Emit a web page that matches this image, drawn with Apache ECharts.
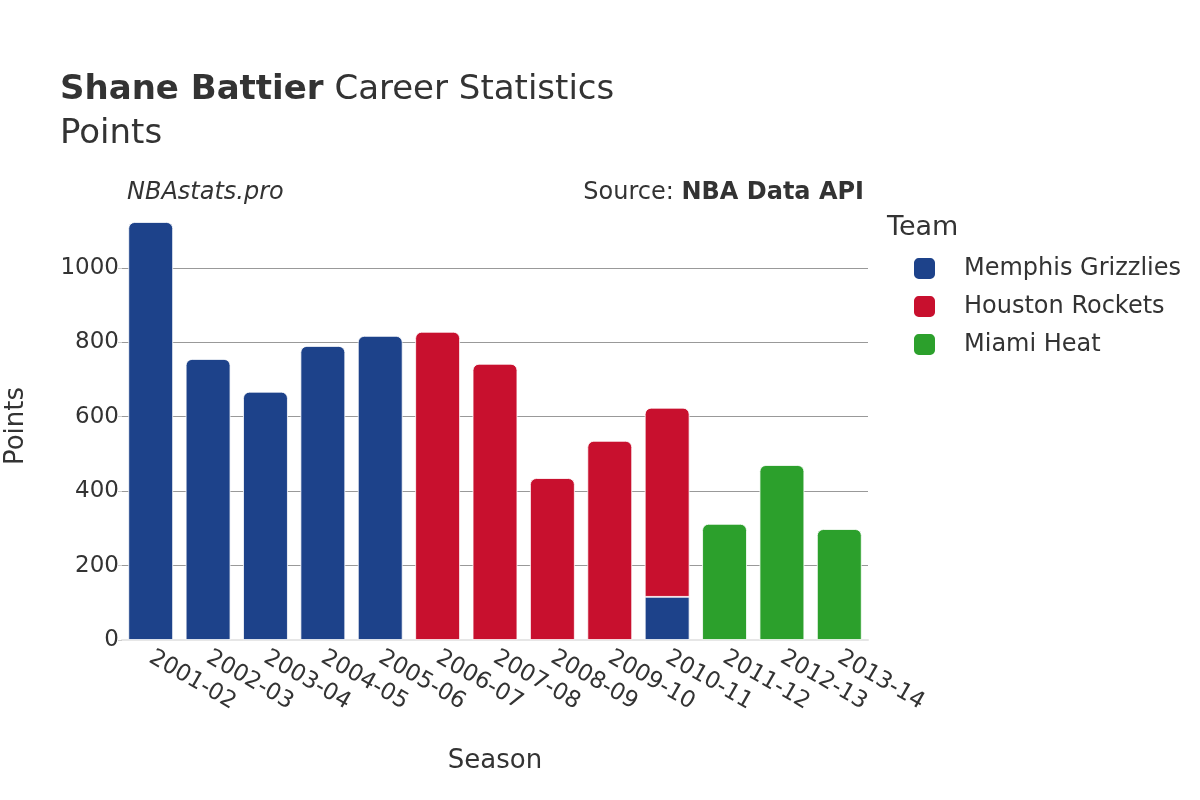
<!DOCTYPE html>
<html>
<head>
<meta charset="utf-8">
<script src="https://cdn.jsdelivr.net/npm/echarts@6/dist/echarts.min.js"></script>
<style>
html,body{margin:0;padding:0;background:#fff;}
#chart{width:1200px;height:800px;}
</style>
</head>
<body>
<div id="chart"></div>
<script>
const seasons = ['2001-02','2002-03','2003-04','2004-05','2005-06','2006-07','2007-08','2008-09','2009-10','2010-11','2011-12','2012-13','2013-14'];
const memphis = [1123, 755, 667, 790, 817, null, null, null, null, 116, null, null, null];
const houston = [null, null, null, null, null, 828, 742, 435, 535, 508, null, null, null];
const miami   = [null, null, null, null, null, null, null, null, null, null, 312, 470, 298];
const teams = ['Memphis Grizzlies', 'Houston Rockets', 'Miami Heat'];
const teamColors = ['#1d428a', '#c8102e', '#2ca02c'];
const yTicks = [200, 400, 600, 800, 1000];

const all = [memphis, houston, miami];
function buildData(si) {
  return all[si].map((v, i) => {
    if (v == null) return null;
    let top = true;
    for (let k = si + 1; k < all.length; k++) if (all[k][i] != null) top = false;
    return { value: v, itemStyle: { borderRadius: top ? [6, 6, 0, 0] : 0 } };
  });
}

const font = 'DejaVu Sans';
const chart = echarts.init(document.getElementById('chart'));
const series = teams.map((t, si) => ({
  name: t,
  type: 'bar',
  stack: 'total',
  barCategoryGap: '22%',
  itemStyle: { color: teamColors[si], borderColor: '#ffffff', borderWidth: 0.8 },
  data: buildData(si),
  ...(si === 0 ? {
    markLine: {
      silent: true,
      symbol: 'none',
      label: { show: false },
      lineStyle: { color: '#999999', width: 1, type: 'solid' },
      data: yTicks.map(v => ({ yAxis: v })),
      z: 0
    }
  } : {})
}));

chart.setOption({
  animation: false,
  backgroundColor: '#ffffff',
  textStyle: { fontFamily: font },
  title: [
    {
      text: '{b|Shane Battier}{n| Career Statistics}\n{n|Points}',
      left: 60, top: 68, padding: 0,
      textStyle: {
        fontWeight: 'normal',
        rich: {
          b: { fontFamily: font, fontSize: 34, fontWeight: 'bold', color: '#333333', lineHeight: 44 },
          n: { fontFamily: font, fontSize: 34, fontWeight: 'normal', color: '#333333', lineHeight: 44 }
        }
      }
    },
    {
      text: 'NBAstats.pro',
      left: 127, top: 181, padding: 0,
      textStyle: { fontFamily: font, fontSize: 24, fontStyle: 'italic', fontWeight: 'normal', color: '#333333' }
    },
    {
      text: 'Source: {b|NBA Data API}',
      right: 336, top: 181, padding: 0,
      textStyle: {
        fontFamily: font, fontSize: 24, fontWeight: 'normal', color: '#333333',
        rich: { b: { fontFamily: font, fontSize: 24, fontWeight: 'bold', color: '#333333' } }
      }
    },
    {
      text: 'Team',
      left: 887, top: 214, padding: 0,
      textStyle: { fontFamily: font, fontSize: 27, fontWeight: 'normal', color: '#333333' }
    }
  ],
  legend: {
    orient: 'vertical',
    left: 912, top: 256, padding: 0,
    itemWidth: 23, itemHeight: 23, itemGap: 13,
    icon: 'roundRect',
    data: teams,
    textStyle: { fontFamily: font, fontSize: 24, lineHeight: 23, color: '#333333', padding: [0, 0, 0, 23] }
  },
  grid: { left: 122, right: 332, top: 212, bottom: 160, containLabel: false, outerBoundsMode: 'none' },
  xAxis: {
    type: 'category',
    data: seasons,
    name: 'Season',
    nameLocation: 'middle',
    nameGap: 108,
    nameTextStyle: { fontFamily: font, fontSize: 26, color: '#333333' },
    axisLine: { show: true, lineStyle: { color: '#e6e6e6', width: 2 } },
    axisTick: { show: false },
    axisLabel: { rotate: -30, fontFamily: font, fontSize: 23, color: '#333333', margin: 16, interval: 0 }
  },
  yAxis: {
    type: 'value',
    min: 0, max: 1150, interval: 200,
    name: 'Points',
    nameLocation: 'middle',
    nameGap: 93,
    nameTextStyle: { fontFamily: font, fontSize: 26, color: '#333333' },
    axisLine: { show: false },
    axisTick: { show: true, length: 4, lineStyle: { color: '#cccccc' } },
    splitLine: { show: false },
    axisLabel: { fontFamily: font, fontSize: 23, color: '#333333', margin: 3, showMaxLabel: false,
      formatter: v => String(v) }
  },
  series: series
});
</script>
</body>
</html>
